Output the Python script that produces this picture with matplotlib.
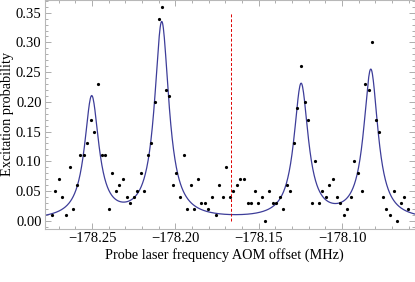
import numpy as np
import matplotlib.pyplot as plt
from matplotlib.ticker import MultipleLocator, FuncFormatter

# probe scan (MHz) and measured excitation probability
freq = [-178.2742, -178.2720, -178.2699, -178.2678, -178.2656, -178.2635, -178.2614,
        -178.2592, -178.2571, -178.2550, -178.2528, -178.2507, -178.2486, -178.2464,
        -178.2443, -178.2421, -178.2400, -178.2379, -178.2357, -178.2336, -178.2315,
        -178.2293, -178.2272, -178.2251, -178.2229, -178.2208, -178.2186, -178.2165,
        -178.2144, -178.2122, -178.2101, -178.2080, -178.2058, -178.2037, -178.2016,
        -178.1994, -178.1973, -178.1951, -178.1930, -178.1909, -178.1887, -178.1866,
        -178.1845, -178.1823, -178.1802, -178.1781, -178.1759, -178.1738, -178.1716,
        -178.1695, -178.1674, -178.1652, -178.1631, -178.1610, -178.1588, -178.1567,
        -178.1546, -178.1524, -178.1503, -178.1482, -178.1460, -178.1439, -178.1417,
        -178.1396, -178.1375, -178.1353, -178.1332, -178.1311, -178.1289, -178.1268,
        -178.1247, -178.1225, -178.1204, -178.1182, -178.1161, -178.1140, -178.1118,
        -178.1097, -178.1076, -178.1054, -178.1033, -178.1012, -178.0990, -178.0969,
        -178.0947, -178.0926, -178.0905, -178.0883, -178.0862, -178.0841, -178.0819,
        -178.0798, -178.0777, -178.0755, -178.0734, -178.0712, -178.0691, -178.0670,
        -178.0648, -178.0627, -178.0606]
prob = [0.01, 0.05, 0.07, 0.04, 0.01, 0.09, 0.02, 0.06, 0.11, 0.11,
        0.13, 0.17, 0.15, 0.23, 0.11, 0.11, 0.02, 0.08, 0.05, 0.06,
        0.07, 0.04, 0.03, 0.04, 0.05, 0.08, 0.05, 0.11, 0.13, 0.20,
        0.34, 0.36, 0.22, 0.21, 0.06, 0.08, 0.04, 0.11, 0.02, 0.06,
        0.02, 0.07, 0.03, 0.03, 0.02, 0.04, 0.01, 0.06, 0.04, 0.09,
        0.04, 0.05, 0.06, 0.07, 0.07, 0.03, 0.03, 0.05, 0.03, 0.04,
        0.00, 0.05, 0.03, 0.03, 0.04, 0.02, 0.06, 0.05, 0.13, 0.19,
        0.26, 0.20, 0.17, 0.03, 0.10, 0.03, 0.05, 0.04, 0.06, 0.07,
        0.04, 0.03, 0.01, 0.02, 0.04, 0.10, 0.08, 0.05, 0.23, 0.22,
        0.30, 0.17, 0.15, 0.04, 0.02, 0.01, 0.05, 0.00, 0.03, 0.04,
        0.02]

# fitted lorentzian sidebands
peak_centers = [-178.2502, -178.2082, -178.1246, -178.0828]
peak_heights = [0.205, 0.331, 0.226, 0.251]
peak_width = 0.0052
carrier = -178.1664

plt.rcParams['font.family'] = ['Liberation Serif', 'DejaVu Serif']
plt.rcParams['mathtext.fontset'] = 'stix'

fig = plt.figure(figsize=(4.15, 2.82), dpi=100)
ax = fig.add_axes([45/415, 1 - 228.7/282, 369.5/415, 228.7/282])

xlim = (-178.2782, -178.0566)
xf = np.linspace(xlim[0], xlim[1], 800)
fit = np.zeros_like(xf)
for c, a in zip(peak_centers, peak_heights):
    fit += a * peak_width**2 / ((xf - c)**2 + peak_width**2)

ax.plot(xf, fit, color='#3d3d99', lw=0.9)
ax.plot(freq, prob, 'o', color='black', ms=2.3, mew=0)
ax.plot([carrier, carrier], [0, 0.35], color='#dd0000', lw=0.7, ls=(0, (3, 2)))

ax.set_xlim(xlim)
ax.set_ylim(-0.0135, 0.3714)

ax.xaxis.set_major_locator(MultipleLocator(0.05))
ax.xaxis.set_minor_locator(MultipleLocator(0.01))
ax.yaxis.set_major_locator(MultipleLocator(0.05))
ax.yaxis.set_minor_locator(MultipleLocator(0.01))
ax.xaxis.set_major_formatter(FuncFormatter(lambda v, p: f'{v:.2f}'.replace('-', '\u2212')))
ax.yaxis.set_major_formatter(FuncFormatter(lambda v, p: f'{v:.2f}'))

ax.tick_params(which='both', direction='in', top=True, right=True,
               color='#a0a0a0', width=0.6, labelsize=10.5, pad=2.5)
ax.tick_params(which='major', length=4)
ax.tick_params(which='minor', length=2)
for s in ax.spines.values():
    s.set_color('#b8b8b8')
    s.set_linewidth(0.8)

ax.set_xlabel('Probe laser frequency AOM offset (MHz)', fontsize=10.3)
ax.set_ylabel('Excitation probability', fontsize=10.3)
ax.xaxis.set_label_coords(0.485, -0.083)
ax.yaxis.set_label_coords(-0.083, 0.5)

fig.savefig('out.png', dpi=100)
